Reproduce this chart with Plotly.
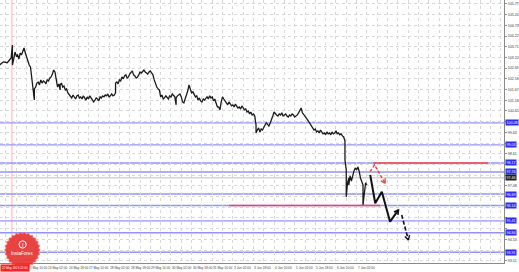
import numpy as np
import plotly.graph_objects as go

# ---------------- data ----------------
# hourly bar index (0 = 22 May 00:00, weekends skipped) and price
bar_idx = [13,16,19,21,22,23,23,24,25,26,27,28,29,30,31,32,33,34,35,36,37,38,39,40,40,41,42,43,44,45,46,47,48,49,50,
           51,52,53,54,55,56,57,58,59,60,60,61,62,63,64,65,66,67,68,69,70,71,72,73,74,75,76,77,78,79,80,
           81,82,83,84,85,86,87,88,89,90,91,92,93,94,95,96,97,98,99,100,101,102,103,103,104,105,106,107,108,109,110,
           111,112,113,114,115,116,117,118,119,120,121,122,123,124,125,126,127,128,129,130,131,132,133,134,135,136,137,138,139,140,
           141,142,143,144,145,146,147,148,149,150,150,151,152,153,154,155,156,157,158,159,160,161,162,163,164,165,166,167,168,169,170,
           171,172,173,174,175,176,177,178,179,180,181,182,183,184,185,186,187,188,189,190,191,192,193,194,195,196,197,198,199,200,
           201,202,203,204,205,206,207,208,209,210,211,212,212,213,214,215,216,217,218,219,220,221,222,223,224,225,226,227,228,229,230,
           231,232,233,234,235,236,237,238,239,240,241,242,243,244,245,246,247,248,249,250,251,252,253,254,255,256,257,258,259,260,
           261,262,263,264,265,266,267,268,269,270,271,272,273,274,275,276,277,278,279,280,281,281,282,282,283,284,284,285,286,287,288,
           289,290,291,292,293,294,295,295,296,297,298]
price = [102.84,102.99,102.95,103.08,103.18,103.79,102.84,103.13,103.46,103.27,103.32,103.13,103.41,103.32,103.55,103.65,103.41,103.22,102.99,102.84,102.75,102.22,101.98,101.17,101.70,101.79,101.98,102.03,101.89,102.13,101.98,102.08,102.03,101.94,102.13,
         102.08,102.22,102.27,102.41,102.60,102.51,102.13,101.79,101.94,101.65,101.89,101.98,101.79,101.84,101.65,101.70,101.51,101.41,101.32,101.27,101.41,101.32,101.22,101.37,101.41,101.27,101.32,101.22,101.37,101.27,101.17,
         101.32,101.22,101.37,101.27,101.17,101.08,101.17,101.27,101.22,101.13,101.32,101.27,101.37,101.32,101.41,101.37,101.46,101.32,101.37,101.46,101.37,101.41,101.51,101.98,102.03,101.94,102.13,102.08,102.27,102.18,102.32,
         102.37,102.22,102.27,102.41,102.51,102.56,102.37,102.32,102.22,102.27,102.37,102.51,102.46,102.56,102.60,102.51,102.46,102.41,102.51,102.56,102.46,102.37,102.13,101.89,101.79,101.70,101.65,101.32,101.41,101.22,
         101.27,101.37,101.27,101.22,101.37,101.32,101.46,101.41,101.32,100.94,101.27,101.37,101.41,101.46,101.32,101.08,101.03,101.22,101.37,101.60,101.89,101.70,101.51,101.56,101.41,101.32,101.37,101.17,101.27,101.13,101.08,
         101.22,101.17,101.27,101.32,101.22,101.37,101.27,101.32,101.13,101.22,101.03,100.84,100.84,100.70,101.08,101.32,101.22,101.13,101.03,100.94,101.08,100.98,100.89,100.94,100.84,100.98,100.89,100.79,100.84,100.74,
         100.89,100.79,100.70,100.74,100.60,100.65,100.51,100.60,100.46,100.51,100.41,99.98,99.60,99.74,99.84,99.65,99.79,99.74,99.89,99.98,100.08,99.98,99.93,100.08,100.22,100.41,100.60,100.51,100.46,100.41,100.51,
         100.46,100.56,100.41,100.46,100.51,100.41,100.36,100.46,100.41,100.51,100.46,100.36,100.41,100.46,100.56,100.70,100.79,100.56,100.46,100.36,100.27,100.22,100.13,100.03,99.98,99.84,99.74,99.79,99.65,99.70,
         99.60,99.74,99.65,99.56,99.60,99.51,99.65,99.56,99.60,99.51,99.65,99.56,99.60,99.70,99.56,99.60,99.51,99.56,99.46,99.41,99.22,98.31,97.84,96.55,97.22,97.46,97.12,97.55,97.31,97.65,97.79,
         97.93,97.84,97.98,97.79,97.46,97.27,97.12,96.17,96.88,97.22,97.12]

# forecast paths (bar index, price)
bear_x = [300.6, 304.5, 309.6, 316.0, 322.5]
bear_y = [97.60, 96.25, 96.80, 95.37, 95.93]
bear_dash_x = [325.0, 330.2]
bear_dash_y = [95.69, 94.50]
bull_x = [300.6, 303.9, 312.2]
bull_y = [97.76, 98.08, 97.20]

# support / resistance levels
levels = [100.08, 99.03, 98.17, 97.74, 96.69, 96.14, 95.41, 94.84, 93.91]
red_levels = [98.17, 96.14]
red_from = [303.1, 191.1]
red_to = [392.0, 308.5]
current_price = 97.46
marker_bar = 22.6

# axis ticks
y_ticks = [round(105.75 - 0.51 * k, 2) for k in range(25)]
x_tick_bars = [18, 34, 50, 66, 82, 98, 114, 130, 146, 162, 178, 194, 210, 226, 242, 258, 274, 290]
x_tick_text = ["22 May 18:00", "23 May 10:00", "24 May 02:00", "24 May 18:00", "27 May 10:00", "28 May 02:00",
               "28 May 18:00", "29 May 10:00", "30 May 02:00", "30 May 18:00", "31 May 10:00", "3 Jun 02:00",
               "3 Jun 18:00", "4 Jun 10:00", "5 Jun 02:00", "5 Jun 18:00", "6 Jun 10:00", "7 Jun 02:00"]

# ---------------- layout constants ----------------
W, H = 519, 272
ML, MR, MT, MB = 0, 13, 0, 9
PW, PH = W - ML - MR, H - MT - MB
X0, X1 = 13.35, 404.4
Y0, Y1 = 93.40, 105.94
PXX = PW / (X1 - X0)
PXY = PH / (Y1 - Y0)
FONT = "Liberation Sans, Arial, sans-serif"

def vhead(xs, ys, length=5.0, ang=np.radians(30)):
    px, py = xs[-1], ys[-1]
    dx = (px - xs[-2]) * PXX
    dy = (py - ys[-2]) * PXY
    n = np.hypot(dx, dy)
    ux, uy = -dx / n, -dy / n
    out_x, out_y = [], []
    for a in (ang, -ang):
        rx = ux * np.cos(a) - uy * np.sin(a)
        ry = ux * np.sin(a) + uy * np.cos(a)
        out_x.append(px + rx * length / PXX)
        out_y.append(py + ry * length / PXY)
    return [out_x[0], px, out_x[1]], [out_y[0], py, out_y[1]]

fig = go.Figure()

# price
fig.add_trace(go.Scatter(x=bar_idx, y=price, mode="lines",
                         line=dict(color="#1a1a1a", width=1.3), hoverinfo="skip"))

# bearish forecast
fig.add_trace(go.Scatter(x=bear_x, y=bear_y, mode="lines",
                         line=dict(color="#111111", width=2), hoverinfo="skip"))
hx, hy = vhead(bear_x, bear_y, 5)
fig.add_trace(go.Scatter(x=hx, y=hy, mode="lines", line=dict(color="#111111", width=1.6), hoverinfo="skip"))
fig.add_trace(go.Scatter(x=bear_dash_x, y=bear_dash_y, mode="lines",
                         line=dict(color="#111111", width=1.6, dash="4px,2px"), hoverinfo="skip"))
hx, hy = vhead(bear_dash_x, bear_dash_y, 5)
fig.add_trace(go.Scatter(x=hx, y=hy, mode="lines", line=dict(color="#111111", width=1.4), hoverinfo="skip"))

# bullish (red) forecast
fig.add_trace(go.Scatter(x=bull_x, y=bull_y, mode="lines",
                         line=dict(color="#f03c3c", width=1.4, dash="3px,2px"), hoverinfo="skip"))
hx, hy = vhead(bull_x, bull_y, 5)
fig.add_trace(go.Scatter(x=hx, y=hy, mode="lines", line=dict(color="#f03c3c", width=1.3), hoverinfo="skip"))

shapes = []
# vertical marker
shapes.append(dict(type="line", xref="x", yref="paper", x0=marker_bar, x1=marker_bar, y0=0, y1=1,
                   line=dict(color="#ffb4b4", width=1), layer="between"))
# current price line
shapes.append(dict(type="line", xref="paper", yref="y", x0=0, x1=1, y0=current_price, y1=current_price,
                   line=dict(color="#d4d4d4", width=1.5), layer="between"))
for lv in levels:
    shapes.append(dict(type="line", xref="paper", yref="y", x0=0, x1=1, y0=lv, y1=lv,
                       line=dict(color="#9494f4", width=1.4), layer="between"))
for lv, a, b in zip(red_levels, red_from, red_to):
    shapes.append(dict(type="line", xref="x", yref="y", x0=a, x1=b, y0=lv, y1=lv,
                       line=dict(color="#f04848", width=1.5), layer="between"))

# InstaForex badge (decorative) in pixel space -> paper
cx, cy, r_out, r_in, teeth = 22.5, 250.0, 18.0, 16.3, 26
ang = np.linspace(0, 2 * np.pi, teeth * 2, endpoint=False)
rad = np.where(np.arange(teeth * 2) % 2 == 0, r_out, r_in)
pts = [((cx + rr * np.cos(t)) / PW, 1 - (cy + rr * np.sin(t)) / PH) for rr, t in zip(rad, ang)]
path = "M " + " L ".join(f"{x:.5f},{y:.5f}" for x, y in pts) + " Z"
shapes.append(dict(type="path", xref="paper", yref="paper", path=path,
                   fillcolor="rgba(232,52,50,0.92)", line=dict(color="rgba(240,120,120,0.6)", width=1), layer="above"))
icx, icy, ir = 22.7, 244.5, 3.6
shapes.append(dict(type="circle", xref="paper", yref="paper",
                   x0=(icx - ir) / PW, x1=(icx + ir) / PW, y0=1 - (icy + ir) / PH, y1=1 - (icy - ir) / PH,
                   fillcolor="rgba(0,0,0,0)", line=dict(color="white", width=1), layer="above"))

annotations = []
annotations.append(dict(xref="paper", yref="paper", x=icx / PW, y=1 - icy / PH, text="f", showarrow=False,
                        font=dict(family=FONT, size=5, color="white"), xanchor="center", yanchor="middle"))
annotations.append(dict(xref="paper", yref="paper", x=cx / PW, y=1 - 253.5 / PH, text="InstaForex", showarrow=False,
                        font=dict(family=FONT, size=4.6, color="white"), xanchor="center", yanchor="middle"))

# x labels (left aligned at tick, MT4 style)
for b, t in zip(x_tick_bars[1:], x_tick_text[1:]):
    annotations.append(dict(xref="x", yref="paper", x=b, y=-5.0 / PH, text=t, showarrow=False,
                            xanchor="left", yanchor="middle", xshift=-1,
                            font=dict(family=FONT, size=3.2, color="#444444")))
# red time box
annotations.append(dict(xref="paper", yref="paper", x=0, y=-4.5 / PH, text="22 May 2013 22:00", showarrow=False,
                        xanchor="left", yanchor="middle", bgcolor="#ff2020", borderpad=1,
                        font=dict(family=FONT, size=3.0, color="white")))

# y level boxes
def near_level(v):
    allv = levels + [current_price]
    return any(abs(v - lv) * PXY < 5.5 for lv in allv)

for lv in levels:
    annotations.append(dict(xref="paper", yref="y", x=1.0, y=lv, text=f"{lv:.2f}", showarrow=False,
                            xanchor="left", yanchor="middle", xshift=1, bgcolor="#2b2bff", borderpad=0.6,
                            font=dict(family=FONT, size=3.6, color="white")))
annotations.append(dict(xref="paper", yref="y", x=1.0, y=current_price, text=f"{current_price:.2f}", showarrow=False,
                        xanchor="left", yanchor="middle", xshift=1, bgcolor="#222222", borderpad=0.6,
                        font=dict(family=FONT, size=3.6, color="white")))

y_text = ["" if near_level(v) else f"{v:.2f}" for v in y_ticks]
grid_bars = list(range(10, 405, 8))

fig.update_layout(
    width=W, height=H, margin=dict(l=ML, r=MR, t=MT, b=MB, pad=0),
    paper_bgcolor="white", plot_bgcolor="white", showlegend=False,
    shapes=shapes, annotations=annotations,
    xaxis=dict(range=[X0, X1], tickmode="array", tickvals=grid_bars, showticklabels=False,
               showgrid=True, gridcolor="#d8d8d8", griddash="dot", gridwidth=1,
               zeroline=False, showline=True, linecolor="#8a8a8a", linewidth=1,
               ticks="", fixedrange=True),
    yaxis=dict(range=[Y0, Y1], side="right", tickmode="array", tickvals=y_ticks, ticktext=y_text,
               showgrid=True, gridcolor="#d8d8d8", griddash="dot", gridwidth=1,
               zeroline=False, showline=True, linecolor="#8a8a8a", linewidth=1,
               ticks="outside", ticklen=2, tickcolor="#8a8a8a",
               tickfont=dict(family=FONT, size=3.6, color="#333333"), fixedrange=True),
)

fig.write_html("out.html", config={"displayModeBar": False})
